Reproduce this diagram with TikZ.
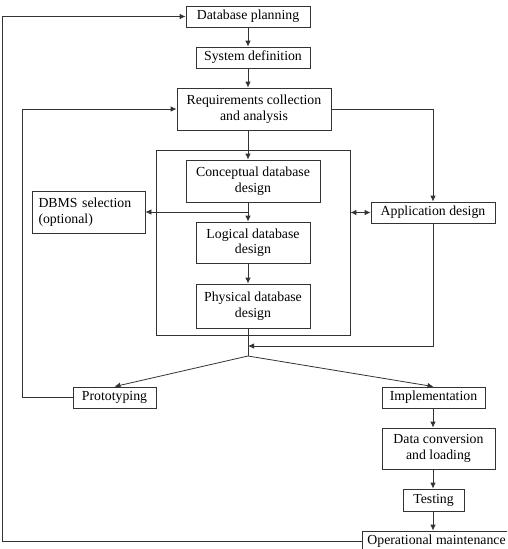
\documentclass[tikz,border=0pt]{standalone}
\usepackage{fontspec}
\setmainfont{Liberation Serif}
\usetikzlibrary{arrows.meta}
\begin{document}
\begin{tikzpicture}[x=1pt,y=-1pt,
  box/.style={draw=black!80, line width=0.8pt, fill=white, inner sep=0pt, align=center,
    font=\fontsize{13.8}{15.6}\selectfont},
  conn/.style={draw=black!80, line width=0.8pt},
  arr/.style={conn, -{Latex[length=6pt,width=5.5pt]}},
  darr/.style={conn, {Latex[length=6pt,width=5.5pt]}-{Latex[length=6pt,width=5.5pt]}}]
\clip (0,0) rectangle (507,549);
\useasboundingbox (0,0) rectangle (507,549);

\node[box, minimum width=194pt, minimum height=185pt] (big) at (253,242.5) {};

\node[box, minimum width=124pt, minimum height=21pt] (dp) at (248,16.5) {Database planning};
\node[box, minimum width=114pt, minimum height=21pt] (sd) at (253,57.5) {System definition};
\node[box, minimum width=154pt, minimum height=42pt] (req) at (254,109) {Requirements collection\\and analysis};
\node[box, minimum width=134pt, minimum height=42pt] (cd) at (253,181) {Conceptual database\\design};
\node[box, minimum height=42pt, align=left, text width=100pt, inner xsep=6.5pt] (dbms) at (88.5,212) {DBMS selection\\(optional)};
\node[box, minimum width=124pt, minimum height=21pt] (app) at (433,212.5) {Application design};
\node[box, minimum width=114pt, minimum height=41pt] (ld) at (253,242.5) {Logical database\\design};
\node[box, minimum width=114pt, minimum height=44pt] (pd) at (253,306) {Physical database\\design};
\node[box, minimum width=83pt, minimum height=21pt] (proto) at (114.5,397.5) {Prototyping};
\node[box, minimum width=103pt, minimum height=21pt] (impl) at (433.5,397.5) {Implementation};
\node[box, minimum width=113pt, minimum height=41pt] (dc) at (438.5,448.5) {Data conversion\\and loading};
\node[box, minimum width=61pt, minimum height=22pt] (test) at (433.5,500) {Testing};
\node[box, anchor=west, minimum height=20pt, inner xsep=5pt] (om) at (362,541) {Operational maintenance};

\coordinate (sp) at (248,0);
\coordinate (col) at (433,0);
\coordinate (lt) at (2,16.5);
\coordinate (pl) at (22,109);
\coordinate (j1) at (248,212);
\coordinate (j2) at (248,346);
\coordinate (j3) at (248,356);

\draw[arr] (dp.south -| sp) -- (sd.north -| sp);
\draw[arr] (sd.south -| sp) -- (req.north -| sp);
\draw[arr] (req.south -| sp) -- (cd.north -| sp);
\draw[arr] (cd.south -| sp) -- (ld.north -| sp);
\draw[arr] (j1) -- (dbms.east);
\draw[arr] (ld.south -| sp) -- (pd.north -| sp);
\draw[conn] (pd.south -| sp) -- (j3);
\draw[arr] (req.east) -| (app.north);
\draw[darr] (big.east |- app.west) -- (app.west);
\draw[arr] (app.south) |- (j2);
\draw[arr] (j3) -- (proto.north);
\draw[arr] (j3) -- (impl.north);
\draw[arr] (proto.west) -| (pl) -- (req.west);
\draw[arr] (impl.south -| col) -- (dc.north -| col);
\draw[arr] (dc.south -| col) -- (test.north -| col);
\draw[arr] (test.south -| col) -- (om.north -| col);
\draw[arr] (om.west) -| (lt) -- (dp.west);
\end{tikzpicture}
\end{document}
